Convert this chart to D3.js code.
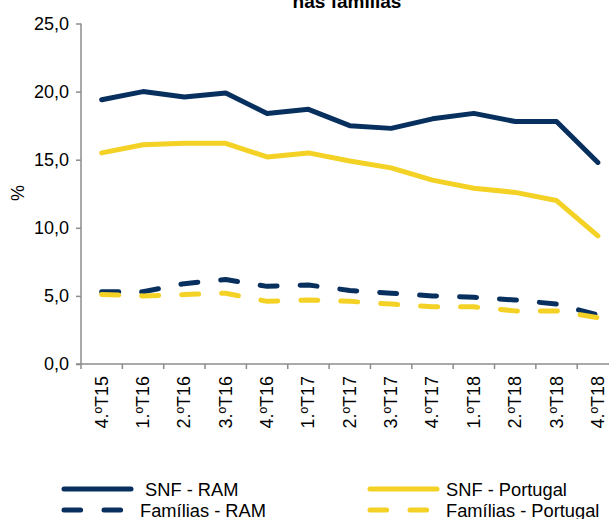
<!DOCTYPE html>
<html>
<head>
<meta charset="utf-8">
<script src="https://cdn.jsdelivr.net/npm/d3@7"></script>
<style>
  html, body { margin: 0; padding: 0; background: #fff; }
  svg { display: block; font-family: Arial, "Liberation Sans", sans-serif; }
</style>
</head>
<body>
<svg id="chart" width="609" height="519"></svg>
<script>
// Quarters shown on the horizontal axis
const quarters = ["4.ºT15", "1.ºT16", "2.ºT16", "3.ºT16", "4.ºT16", "1.ºT17", "2.ºT17",
                  "3.ºT17", "4.ºT17", "1.ºT18", "2.ºT18", "3.ºT18", "4.ºT18"];

// Series values (%)
const snfRAM        = [19.4, 20.0, 19.6, 19.9, 18.4, 18.7, 17.5, 17.3, 18.0, 18.4, 17.8, 17.8, 14.8];
const snfPortugal   = [15.5, 16.1, 16.2, 16.2, 15.2, 15.5, 14.9, 14.4, 13.5, 12.9, 12.6, 12.0, 9.4];
const familiasRAM   = [5.3, 5.3, 5.9, 6.2, 5.7, 5.8, 5.4, 5.2, 5.0, 4.9, 4.7, 4.4, 3.6];
const familiasPT    = [5.1, 5.0, 5.1, 5.2, 4.6, 4.7, 4.6, 4.4, 4.2, 4.2, 3.9, 3.9, 3.4];

// Y-axis tick values
const yTicks = [0, 5, 10, 15, 20, 25];

const navy = "#08305f";
const yellow = "#f4d125";

const series = [
  { name: "SNF - RAM",          values: snfRAM,      color: navy,   dashed: false },
  { name: "SNF - Portugal",     values: snfPortugal, color: yellow, dashed: false },
  { name: "Famílias - RAM",     values: familiasRAM, color: navy,   dashed: true },
  { name: "Famílias - Portugal",values: familiasPT,  color: yellow, dashed: true }
];

const svg = d3.select("#chart");

const plotLeft = 81, plotBottom = 364, plotTop = 23.5, bandW = 41.35;

const x = d3.scaleBand()
  .domain(quarters)
  .range([plotLeft, plotLeft + bandW * quarters.length])
  .paddingInner(0).paddingOuter(0);

const y = d3.scaleLinear().domain([0, 25]).range([plotBottom, plotTop]);

// Title (second line)
svg.append("text")
  .attr("x", 347).attr("y", 8)
  .attr("text-anchor", "middle")
  .attr("font-weight", "bold")
  .attr("font-size", 19)
  .attr("fill", "#000")
  .text("nas famílias");

// Y axis
const yAxis = svg.append("g")
  .attr("transform", `translate(${plotLeft},0)`)
  .call(d3.axisLeft(y).tickValues(yTicks).tickSize(5).tickPadding(7)
    .tickFormat(d => d3.format(".1f")(d).replace(".", ",")));
yAxis.selectAll("text").attr("font-size", 18).attr("fill", "#000")
  .attr("font-family", "Arial, 'Liberation Sans', sans-serif");
yAxis.selectAll("line").attr("stroke", "#8c8c8c").attr("stroke-width", 1.5);
yAxis.select(".domain").attr("stroke", "#8c8c8c").attr("stroke-width", 1.5)
  .attr("d", `M0,${y(25)}V${y(0)}`);

// Y axis title
svg.append("text")
  .attr("transform", `translate(24,193) rotate(-90)`)
  .attr("text-anchor", "middle")
  .attr("font-size", 18)
  .text("%");

// X axis: ticks at band boundaries, labels rotated
const xg = svg.append("g").attr("transform", `translate(0,${plotBottom})`);
xg.append("line")
  .attr("x1", plotLeft - 5).attr("x2", x.range()[1])
  .attr("stroke", "#8c8c8c").attr("stroke-width", 1.5);
xg.selectAll("line.tick")
  .data(quarters)
  .join("line")
  .attr("class", "tick")
  .attr("x1", d => x(d)).attr("x2", d => x(d))
  .attr("y1", 0).attr("y2", 5)
  .attr("stroke", "#8c8c8c").attr("stroke-width", 1.5);
xg.selectAll("text")
  .data(quarters)
  .join("text")
  .attr("transform", d => `translate(${x(d) + x.bandwidth() / 2 + 6},12) rotate(-90)`)
  .attr("text-anchor", "end")
  .attr("font-size", 18)
  .text(d => d);

// Lines
const line = d3.line()
  .x((d, i) => x(quarters[i]) + x.bandwidth() / 2)
  .y(d => y(d));

svg.append("g").selectAll("path")
  .data(series)
  .join("path")
  .attr("d", s => line(s.values))
  .attr("fill", "none")
  .attr("stroke", s => s.color)
  .attr("stroke-width", 5)
  .attr("stroke-linejoin", "round")
  .attr("stroke-linecap", "round")
  .attr("stroke-dasharray", s => s.dashed ? "17,23" : null);

// Legend
const legendPos = [
  { x: 64, y: 489, tx: 145 },
  { x: 370, y: 489, tx: 446 },
  { x: 64, y: 510, tx: 140 },
  { x: 370, y: 510, tx: 446 }
];
const lg = svg.append("g");
series.forEach((s, i) => {
  const p = legendPos[i];
  lg.append("line")
    .attr("x1", p.x).attr("x2", p.x + (s.dashed ? 57 : 67))
    .attr("y1", p.y).attr("y2", p.y)
    .attr("stroke", s.color).attr("stroke-width", 5)
    .attr("stroke-linecap", "round")
    .attr("stroke-dasharray", s.dashed ? "16.6,23.4" : null);
  lg.append("text")
    .attr("x", p.tx).attr("y", p.y + 6.5)
    .attr("font-size", 18.3)
    .text(s.name);
});
</script>
</body>
</html>
